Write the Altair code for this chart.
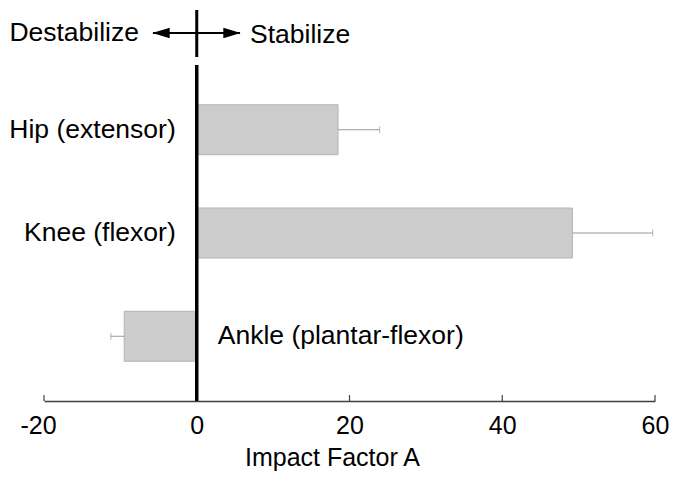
import altair as alt
import pandas as pd

categories = ["Hip (extensor)", "Knee (flexor)", "Ankle (plantar-flexor)"]
values = [18.5, 49.2, -9.5]
errors = [5.45, 10.5, 1.75]
tick_values = [-20, 0, 20, 40, 60]

FONT = "Liberation Sans"
FS = 25
FS2 = 26.5

df = pd.DataFrame({"cat": categories, "value": values, "err": errors})
df["end"] = [v + e if v >= 0 else v - e for v, e in zip(values, errors)]
ticks_df = pd.DataFrame({"t": tick_values})
one = pd.DataFrame({"a": [0]})

W, H = 611, 336

xscale = alt.Scale(domain=[-20, 60], nice=False, zero=False)
yscale = alt.Scale(domain=categories, paddingInner=0.516, paddingOuter=0.385)

base = alt.Chart(df)

bars = base.mark_bar(color="#cccccc", stroke="#b4b4b4", strokeWidth=1).encode(
    x=alt.X("value:Q", scale=xscale,
            axis=alt.Axis(values=tick_values, ticks=False, grid=False,
                          domainColor="#404040", domainWidth=1.5,
                          labelExpr="'' + datum.value",
                          labelOffset={"condition": {"test": "datum.value < 0", "value": -6}, "value": 0},
                          labelFont=FONT, labelFontSize=FS, labelColor="black",
                          labelPadding=12, labelFlush=False, labelBaseline="top",
                          title="Impact Factor A", titleFont=FONT, titleFontSize=FS,
                          titleFontWeight="normal", titleColor="black",
                          titleX=288, titleY=64.5, titleBaseline="alphabetic",
                          titleAlign="center")),
    x2=alt.datum(0),
    y=alt.Y("cat:N", scale=yscale, axis=None, sort=categories),
)

err_rule = base.mark_rule(color="#999999", strokeWidth=1).encode(
    x=alt.X("value:Q", scale=xscale),
    x2="end:Q",
    y=alt.Y("cat:N", scale=yscale, sort=categories),
)
err_cap = base.mark_tick(color="#999999", thickness=1, size=7, orient="vertical").encode(
    x=alt.X("end:Q", scale=xscale),
    y=alt.Y("cat:N", scale=yscale, sort=categories),
)

lab_pos = base.transform_filter("datum.value >= 0").mark_text(
    align="right", baseline="middle", dx=-21, font=FONT, fontSize=FS2, color="black"
).encode(
    x=alt.datum(0),
    y=alt.Y("cat:N", scale=yscale, sort=categories),
    text="cat:N",
)
lab_neg = base.transform_filter("datum.value < 0").mark_text(
    align="left", baseline="middle", dx=21, font=FONT, fontSize=FS2, color="black"
).encode(
    x=alt.datum(0),
    y=alt.Y("cat:N", scale=yscale, sort=categories),
    text="cat:N",
)

axis_ticks = alt.Chart(ticks_df).mark_rule(color="#404040", strokeWidth=1.2).encode(
    x=alt.X("t:Q", scale=xscale),
    y=alt.value(H - 6),
    y2=alt.value(H),
)

zero_line = alt.Chart(one).mark_rule(color="black", strokeWidth=3.5).encode(
    x=alt.datum(0),
)

# top annotation: cross with arrows
cross_v = alt.Chart(one).mark_rule(color="black", strokeWidth=3, clip=False).encode(
    x=alt.datum(0), y=alt.value(-55), y2=alt.value(-8)
)
cross_h = alt.Chart(one).mark_rule(color="black", strokeWidth=2, clip=False).encode(
    x=alt.value(109), x2=alt.value(196), y=alt.value(-32)
)
head_r = alt.Chart(one).mark_point(
    shape="M 1 0 L -1 -0.6 L -1 0.6 Z", filled=True, color="black", opacity=1,
    size=300, clip=False
).encode(x=alt.value(188), y=alt.value(-32))
head_l = alt.Chart(one).mark_point(
    shape="M -1 0 L 1 -0.6 L 1 0.6 Z", filled=True, color="black", opacity=1,
    size=300, clip=False
).encode(x=alt.value(117), y=alt.value(-32))
txt_l = alt.Chart(one).mark_text(
    text="Destabilize", align="right", baseline="middle", font=FONT, fontSize=FS2,
    color="black", clip=False
).encode(x=alt.value(95), y=alt.value(-32))
txt_r = alt.Chart(one).mark_text(
    text="Stabilize", align="left", baseline="middle", font=FONT, fontSize=FS2,
    color="black", clip=False
).encode(x=alt.value(206), y=alt.value(-30))

chart = alt.layer(
    bars, err_rule, err_cap, axis_ticks, zero_line, lab_pos, lab_neg,
    cross_v, cross_h, head_r, head_l, txt_l, txt_r
).properties(
    width=W, height=H,
    background="white",
    autosize=alt.AutoSizeParams(type="none"),
    padding={"left": 36, "top": 57, "right": 16, "bottom": 73},
).configure_view(strokeWidth=0, stroke=None)

chart.save("out.html", embed_options={"renderer": "svg", "actions": False})
